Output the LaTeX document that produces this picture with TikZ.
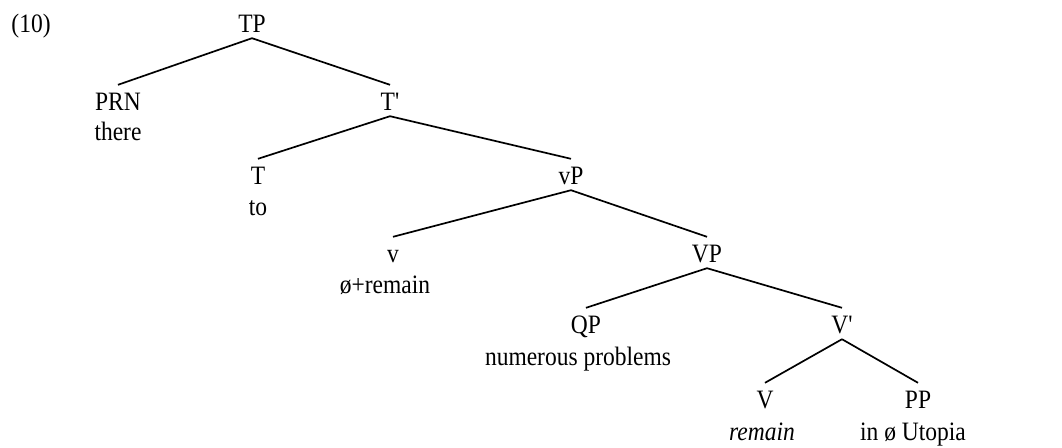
\documentclass[tikz,border=0pt]{standalone}
\usepackage{fontspec}
\usepackage{graphicx}
\setmainfont{Liberation Serif}[Ligatures=TeXOff]
\newcommand\tall[1]{\scalebox{1}[1.13]{#1}}
\begin{document}
\begin{tikzpicture}[x=1pt,y=-1pt,
  every node/.style={font=\fontsize{23.5}{28}\selectfont, inner sep=0pt},
  cat/.style={anchor=base, text height=25pt, text depth=6pt},
  word/.style={anchor=base},
  branch/.style={line width=1.7pt}]
\useasboundingbox (0,0) rectangle (1062,447);
\node[word] (ex) at (31,32) {\tall{(10)}};
% categories
\node[cat] (TP)  at (252,32)  {\tall{TP}};
\node[cat] (PRN) at (118,110) {\tall{PRN}};
\node[cat] (Tb)  at (390,110) {\tall{T'}};
\node[cat] (T)   at (258,184) {\tall{T}};
\node[cat] (vP)  at (571,184) {\tall{vP}};
\node[cat] (v)   at (393,262) {\tall{v}};
\node[cat] (VP)  at (707,262) {\tall{VP}};
\node[cat] (QP)  at (586,333) {\tall{QP}};
\node[cat] (Vb)  at (842,333) {\tall{V'}};
\node[cat] (V)   at (765,408) {\tall{V}};
\node[cat] (PP)  at (918,408) {\tall{PP}};
% words
\node[word] (there)  at (118,140) {\tall{there}};
\node[word] (to)     at (258,215) {\tall{to}};
\node[word] (remainv) at (385,293) {\tall{ø+remain}};
\node[word] (np)     at (578,365) {\tall{numerous problems}};
\node[word] (remV)   at (762,440) {\tall{\itshape remain}};
\node[word] (utopia) at (913,440) {\tall{in ø Utopia}};
% branches
\draw[branch] (TP.south) -- (PRN.north);
\draw[branch] (TP.south) -- (Tb.north);
\draw[branch] (Tb.south) -- (T.north);
\draw[branch] (Tb.south) -- (vP.north);
\draw[branch] (vP.south) -- (v.north);
\draw[branch] (vP.south) -- (VP.north);
\draw[branch] (VP.south) -- (QP.north);
\draw[branch] (VP.south) -- (Vb.north);
\draw[branch] (Vb.south) -- (V.north);
\draw[branch] (Vb.south) -- (PP.north);
\end{tikzpicture}
\end{document}
